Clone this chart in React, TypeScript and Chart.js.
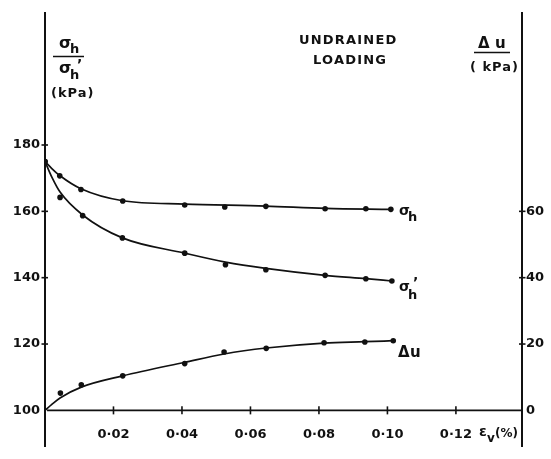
import React, { useEffect, useRef } from "react";
import { Chart, registerables } from "chart.js";

Chart.register(...registerables);

// ---- data ----
const strainTicks = [0.02, 0.04, 0.06, 0.08, 0.1, 0.12];
const stressTicks = [100, 120, 140, 160, 180];
const pwpTicks = [0, 20, 40, 60];

// measured points
const strainPts = [0, 0.0043, 0.0105, 0.0227, 0.0408, 0.0525, 0.0645, 0.0818, 0.0937, 0.101];
const sigmaHPts = [175, 170.7, 166.6, 163.1, 161.9, 161.3, 161.5, 160.8, 160.8, 160.6];
const strainEffPts = [0, 0.0044, 0.011, 0.0226, 0.0408, 0.0527, 0.0645, 0.0818, 0.0937, 0.1013];
const sigmaHEffPts = [175, 164.2, 158.7, 152.0, 147.4, 143.9, 142.4, 140.7, 139.7, 139.0];
const strainDuPts = [0.0045, 0.0106, 0.0227, 0.0408, 0.0523, 0.0646, 0.0815, 0.0934, 0.1017];
const duPts = [5.2, 7.7, 10.4, 14.1, 17.6, 18.7, 20.4, 20.6, 21.0];

// fitted curves
const sigmaHCurveX = [0, 0.002, 0.0043, 0.0105, 0.0227, 0.0408, 0.0645, 0.0818, 0.101];
const sigmaHCurve = [175, 172.9, 170.8, 166.8, 163.2, 162.2, 161.6, 160.9, 160.6];
const sigmaHEffCurveX = [0, 0.002, 0.0044, 0.011, 0.0226, 0.0408, 0.0527, 0.0645, 0.0818, 0.0937, 0.1013];
const sigmaHEffCurve = [175, 170.3, 165.8, 158.9, 152.0, 147.4, 144.7, 142.8, 140.7, 139.7, 139.0];
const duCurveX = [0, 0.002, 0.0045, 0.0106, 0.0227, 0.0408, 0.0523, 0.0646, 0.0815, 0.0934, 0.1017];
const duCurve = [0, 1.8, 3.8, 7.0, 10.4, 14.5, 17.0, 18.8, 20.3, 20.7, 21.0];

const X_MAX = 0.1393;
const Y_MIN = 89.2;
const Y_MAX = 219.85;
const PWP_OFFSET = 100;

const INK = "#111";
const FONT = "'DejaVu Sans', sans-serif";

const xy = (xs: number[], ys: number[]) => xs.map((x, i) => ({ x, y: ys[i] }));

function drawSub(
  ctx: CanvasRenderingContext2D,
  main: string,
  sub: string,
  x: number,
  y: number,
  mainSize: number,
  subSize: number,
  subDx: number,
  subDy: number,
  prime?: { dx: number; dy: number }
) {
  ctx.font = `bold ${mainSize}px ${FONT}`;
  ctx.fillText(main, x, y);
  ctx.font = `bold ${subSize}px ${FONT}`;
  ctx.fillText(sub, x + subDx, y + subDy);
  if (prime) {
    ctx.font = `bold ${subSize + 1}px ${FONT}`;
    ctx.fillText("\u2019", x + prime.dx, y + prime.dy);
  }
}

const decorPlugin = {
  id: "decor",
  afterDraw(chart: any) {
    const ctx: CanvasRenderingContext2D = chart.ctx;
    const { chartArea } = chart;
    const xs = chart.scales.x;
    const ys = chart.scales.y;
    const y1 = chart.scales.y1;
    ctx.save();
    ctx.strokeStyle = INK;
    ctx.fillStyle = INK;

    // x axis line at stress = 100
    const yAxisPix = ys.getPixelForValue(100);
    ctx.lineWidth = 1.8;
    ctx.beginPath();
    ctx.moveTo(xs.getPixelForValue(0.0006), yAxisPix);
    ctx.lineTo(chartArea.right, yAxisPix);
    ctx.stroke();

    // crossing tick marks
    ctx.lineWidth = 1.6;
    strainTicks.forEach((v) => {
      const px = xs.getPixelForValue(v);
      ctx.beginPath();
      ctx.moveTo(px, yAxisPix - 4);
      ctx.lineTo(px, yAxisPix + 4);
      ctx.stroke();
    });
    stressTicks.forEach((v) => {
      if (v === 100) return;
      const py = ys.getPixelForValue(v);
      ctx.beginPath();
      ctx.moveTo(chartArea.left - 3.5, py);
      ctx.lineTo(chartArea.left + 3, py);
      ctx.stroke();
    });
    pwpTicks.forEach((v) => {
      if (v === 0) return;
      const py = y1.getPixelForValue(v);
      ctx.beginPath();
      ctx.moveTo(chartArea.right - 3, py);
      ctx.lineTo(chartArea.right + 3.5, py);
      ctx.stroke();
    });

    ctx.textBaseline = "alphabetic";
    ctx.textAlign = "left";

    // top-left axis title: sigma_h / sigma_h' (kPa)
    drawSub(ctx, "\u03c3", "h", 59, 48, 16, 13, 11, 5);
    ctx.lineWidth = 1.5;
    ctx.beginPath();
    ctx.moveTo(53, 56.5);
    ctx.lineTo(84, 56.5);
    ctx.stroke();
    drawSub(ctx, "\u03c3", "h", 59, 73, 16, 13, 11, 6, { dx: 18, dy: -4 });
    ctx.font = `bold 13px ${FONT}`;
    (ctx as any).letterSpacing = "1px";
    ctx.fillText("(kPa)", 51, 97);

    // UNDRAINED LOADING
    (ctx as any).letterSpacing = "1.2px";
    ctx.font = `bold 13px ${FONT}`;
    ctx.fillText("UNDRAINED", 299, 44);
    ctx.fillText("LOADING", 313, 64);

    // top-right axis title: Δu (kPa)
    (ctx as any).letterSpacing = "0px";
    ctx.font = `bold 15px ${FONT}`;
    ctx.fillText("\u0394", 478, 48);
    ctx.fillText("u", 495, 48);
    ctx.beginPath();
    ctx.moveTo(474, 52.5);
    ctx.lineTo(510, 52.5);
    ctx.stroke();
    ctx.font = `bold 13px ${FONT}`;
    (ctx as any).letterSpacing = "1px";
    ctx.fillText("( kPa)", 470, 71);
    (ctx as any).letterSpacing = "0px";

    // curve labels
    drawSub(ctx, "\u03c3", "h", 399, 215, 14, 13, 9, 6);
    drawSub(ctx, "\u03c3", "h", 399, 291, 14, 13, 9, 8, { dx: 14, dy: -4 });
    ctx.font = `bold 15px ${FONT}`;
    ctx.fillText("\u0394", 398, 357);
    ctx.fillText("u", 410, 357);

    // x axis label εv(%)
    drawSub(ctx, "\u03b5", "v", 479, 436, 14, 12, 8, 6);
    ctx.font = `bold 12px ${FONT}`;
    ctx.fillText("(%)", 495, 437);

    ctx.restore();
  },
};

export default function App() {
  const canvasRef = useRef<HTMLCanvasElement | null>(null);

  useEffect(() => {
    const canvas = canvasRef.current;
    if (!canvas) return;

    const curveStyle = {
      showLine: true,
      borderColor: INK,
      borderWidth: 1.7,
      pointRadius: 0,
      fill: false,
      cubicInterpolationMode: "monotone" as const,
    };
    const pointStyle = {
      showLine: false,
      pointRadius: 2.8,
      pointBackgroundColor: INK,
      pointBorderColor: INK,
      pointBorderWidth: 0,
    };

    const tickFont = { family: FONT, size: 13, weight: "bold" as const };

    const chart = new Chart(canvas, {
      type: "scatter",
      data: {
        datasets: [
          { label: "σh curve", data: xy(sigmaHCurveX, sigmaHCurve), yAxisID: "y", ...curveStyle },
          { label: "σh' curve", data: xy(sigmaHEffCurveX, sigmaHEffCurve), yAxisID: "y", ...curveStyle },
          { label: "Δu curve", data: xy(duCurveX, duCurve), yAxisID: "y1", ...curveStyle },
          { label: "σh", data: xy(strainPts, sigmaHPts), yAxisID: "y", ...pointStyle },
          { label: "σh'", data: xy(strainEffPts, sigmaHEffPts), yAxisID: "y", ...pointStyle },
          { label: "Δu", data: xy(strainDuPts, duPts), yAxisID: "y1", ...pointStyle },
        ],
      } as any,
      options: {
        responsive: false,
        animation: false,
        events: [],
        layout: { padding: { top: 9, bottom: 3, left: 0, right: 0 } },
        plugins: {
          legend: { display: false },
          tooltip: { enabled: false },
          title: { display: false },
        },
        scales: {
          x: {
            type: "linear",
            min: 0,
            max: X_MAX,
            position: { y: 100 } as any,
            afterBuildTicks: (scale: any) => {
              scale.ticks = strainTicks.map((v) => ({ value: v }));
            },
            grid: { display: false, drawTicks: false },
            border: { display: false },
            ticks: {
              autoSkip: false,
              maxRotation: 0,
              padding: 16,
              color: INK,
              font: tickFont,
              callback: (v: any) => Number(v).toFixed(2).replace(".", "\u00b7"),
            },
          },
          y: {
            type: "linear",
            position: "left",
            min: Y_MIN,
            max: Y_MAX,
            afterBuildTicks: (scale: any) => {
              scale.ticks = stressTicks.map((v) => ({ value: v }));
            },
            afterFit: (scale: any) => {
              scale.width = 45;
            },
            grid: { display: false, drawTicks: false },
            border: { display: true, color: INK, width: 2 },
            ticks: {
              padding: 5,
              color: INK,
              font: tickFont,
              callback: (v: any) => String(v),
            },
          },
          y1: {
            type: "linear",
            position: "right",
            min: Y_MIN - PWP_OFFSET,
            max: Y_MAX - PWP_OFFSET,
            afterBuildTicks: (scale: any) => {
              scale.ticks = pwpTicks.map((v) => ({ value: v }));
            },
            afterFit: (scale: any) => {
              scale.width = 29;
            },
            grid: { display: false, drawTicks: false },
            border: { display: true, color: INK, width: 2 },
            ticks: {
              padding: 4,
              color: INK,
              font: tickFont,
              callback: (v: any) => String(v),
            },
          },
        },
      },
      plugins: [decorPlugin],
    });

    return () => chart.destroy();
  }, []);

  return (
    <div style={{ position: "absolute", left: 0, top: 0, width: 551, height: 459, background: "#fff" }}>
      <canvas ref={canvasRef} width={551} height={459} style={{ display: "block" }} />
    </div>
  );
}
